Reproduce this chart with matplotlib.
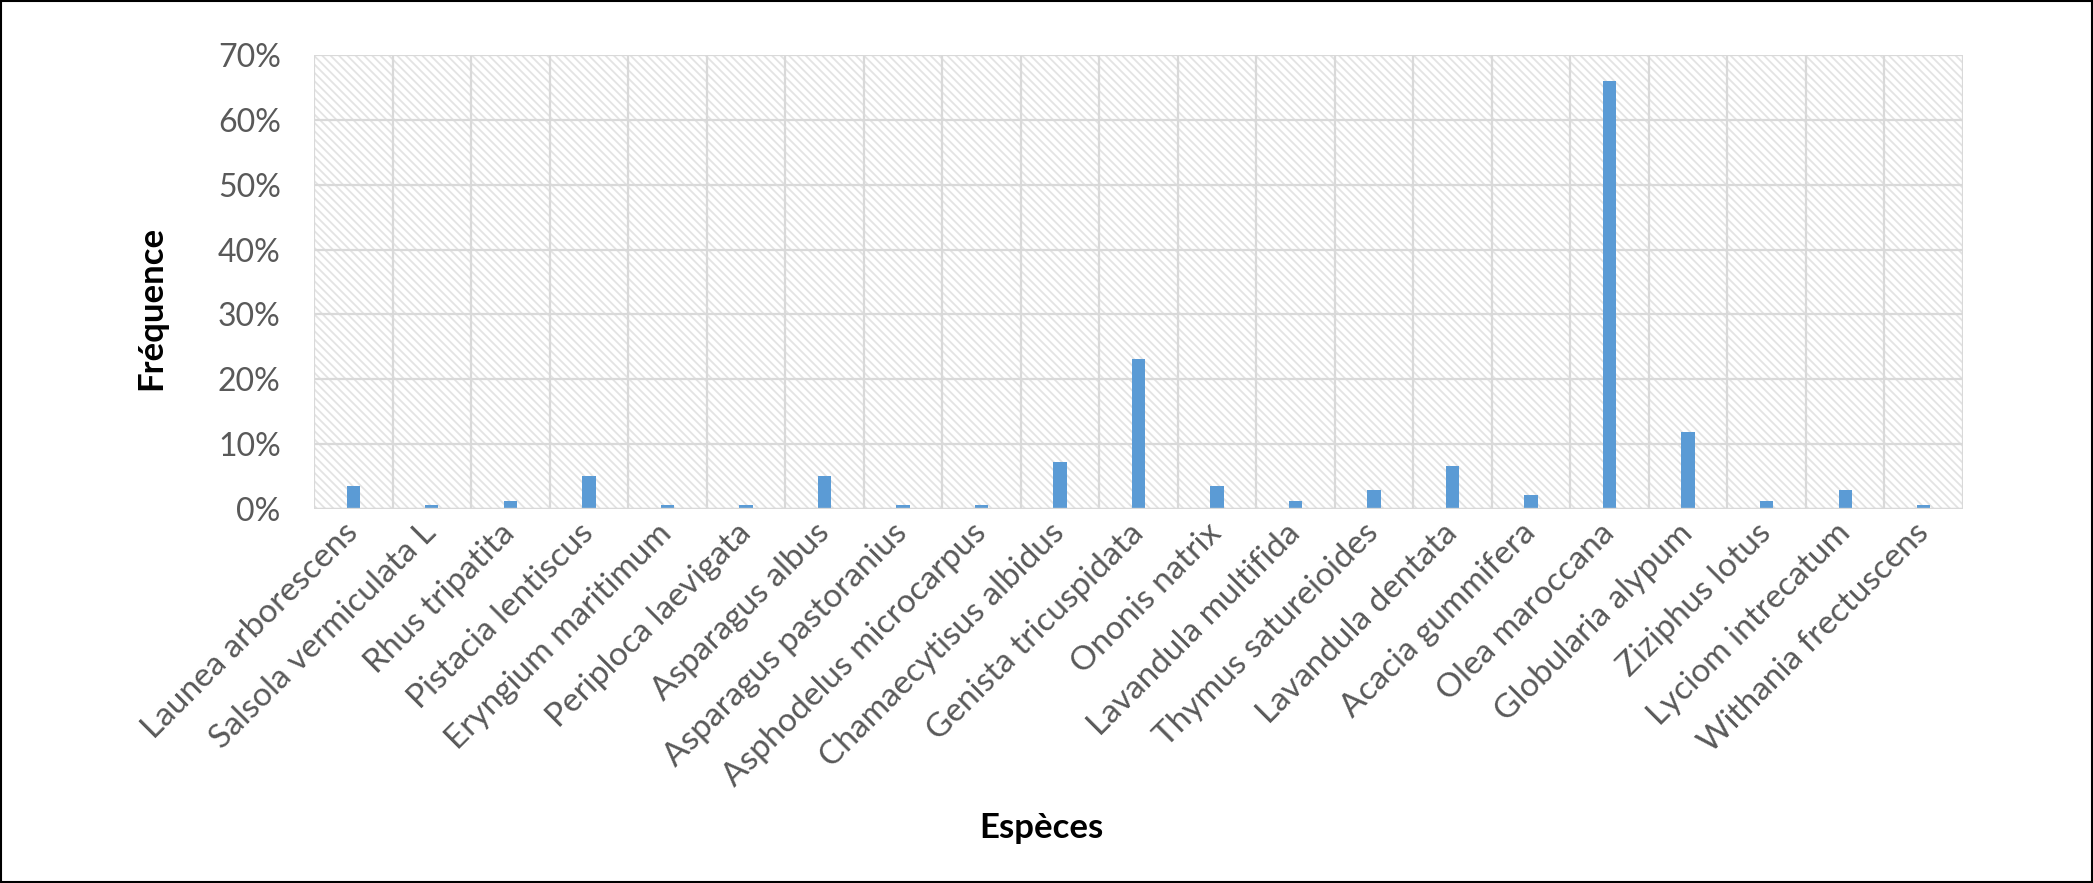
import numpy as np
import matplotlib.pyplot as plt
from matplotlib.patches import Rectangle
from matplotlib.ticker import PercentFormatter

# Species and their frequency (%)
species = [
    "Launea arborescens", "Salsola vermiculata L", "Rhus tripatita",
    "Pistacia lentiscus", "Eryngium maritimum", "Periploca laevigata",
    "Asparagus albus", "Asparagus pastoranius", "Asphodelus microcarpus",
    "Chamaecytisus albidus", "Genista tricuspidata", "Ononis natrix",
    "Lavandula multifida", "Thymus satureioides", "Lavandula dentata",
    "Acacia gummifera", "Olea maroccana", "Globularia alypum",
    "Ziziphus lotus", "Lyciom intrecatum", "Withania frectuscens",
]
frequency = [3.6, 0.6, 1.3, 5.1, 0.6, 0.6, 5.1, 0.6, 0.6, 7.3, 23.2,
             3.6, 1.3, 3.0, 6.7, 2.2, 66.0, 11.9, 1.3, 3.0, 0.6]
yticks = [0, 10, 20, 30, 40, 50, 60, 70]

BAR_COLOR = "#5B9BD5"
GRID_COLOR = "#D9D9D9"
TEXT_GRAY = "#595959"

plt.rcParams["font.family"] = ["Lato", "DejaVu Sans"]
plt.rcParams["hatch.linewidth"] = 1.3

fig = plt.figure(figsize=(20.93, 8.83), dpi=100)
ax = fig.add_axes([314 / 2093, 1 - 509 / 883, (1963 - 314) / 2093, (509 - 55) / 883])

x = np.arange(len(species))

# hatched plot-area background (dense light-grey downward diagonal)
ax.add_patch(Rectangle((0, 0), 1, 1, transform=ax.transAxes, facecolor="white",
                       edgecolor="#E3E3E3", hatch="\\\\\\\\", lw=0, zorder=0))

# gridlines: horizontal at ticks, vertical between categories
for v in yticks:
    ax.axhline(v, color=GRID_COLOR, lw=1.6, zorder=1)
for b in np.arange(len(species) + 1) - 0.5:
    ax.axvline(b, color=GRID_COLOR, lw=1.6, zorder=1)
ax.axhline(0, color=GRID_COLOR, lw=2.4, zorder=3)

ax.bar(x, frequency, width=0.17, color=BAR_COLOR, zorder=2)

ax.set_xlim(-0.5, len(species) - 0.5)
ax.set_ylim(0, 70)
ax.set_yticks(yticks)
ax.yaxis.set_major_formatter(PercentFormatter(decimals=0))
ax.set_xticks(x)
ax.set_xticklabels(species, rotation=45, ha="right", va="center",
                   rotation_mode="anchor")
ax.tick_params(axis="y", length=0, pad=24, labelsize=23, labelcolor=TEXT_GRAY)
ax.tick_params(axis="x", length=0, pad=14, labelsize=24, labelcolor=TEXT_GRAY)
for s in ax.spines.values():
    s.set_visible(False)

fig.text(151 / 2093, 1 - 308 / 883, "Fréquence", rotation=90, ha="center",
         va="center", fontsize=25, fontweight="bold", color="black")
fig.text(1041 / 2093, 1 - 828 / 883, "Espèces", ha="center", va="center",
         fontsize=25, fontweight="bold", color="black")

# outer frame
fig.patches.append(Rectangle((0.0005, 0.001), 0.999, 0.998, transform=fig.transFigure,
                             fill=False, edgecolor="black", lw=1.5))

fig.savefig("out.png", dpi=100)
